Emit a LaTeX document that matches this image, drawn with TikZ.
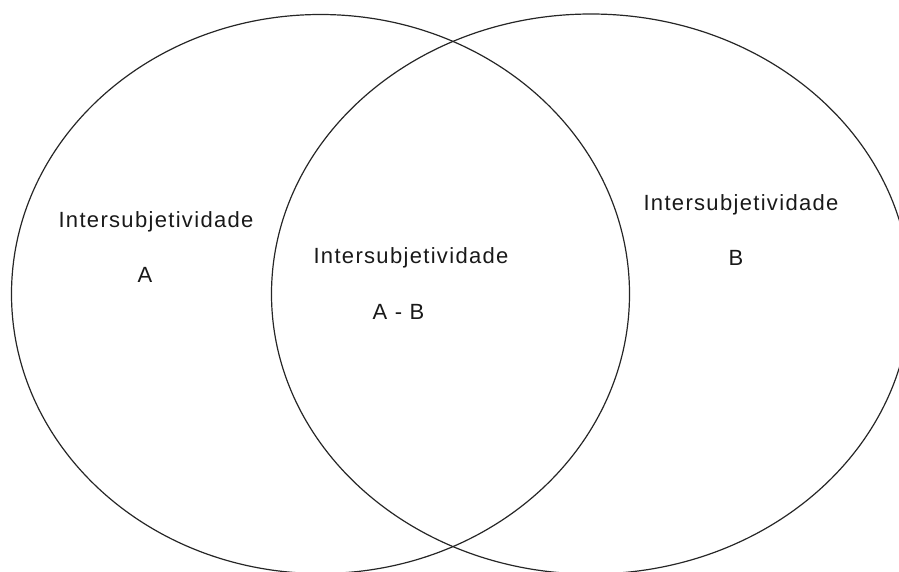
\documentclass[tikz,border=0pt]{standalone}
\usepackage{fontspec}
\newfontfamily\lblfont[LetterSpace=6]{Liberation Sans}
\usetikzlibrary{positioning}

\begin{document}
\begin{tikzpicture}[x=1pt, y=-1pt,
        setline/.style={line width=1.2pt, draw=black!85},
        lbl/.style={font=\lblfont\fontsize{22}{26}\selectfont, text=black!90, anchor=base, inner sep=0pt}
    ]
        \clip (0,0) rectangle (899,571);

        % The two sets
        \draw[setline] (320.5,294) ellipse [x radius=309, y radius=279.5];
        \draw[setline] (591,294) ellipse [x radius=319.5, y radius=280];

        % Left part
        \node[lbl] (intA) at (156,227) {Intersubjetividade};
        \node[lbl] (nameA) at (145,282) {A};

        % Common part
        \node[lbl] (intAB) at (411,263) {Intersubjetividade};
        \node[lbl] (nameAB) at (398.5,319) {A - B};

        % Right part
        \node[lbl] (intB) at (741,210.5) {Intersubjetividade};
        \node[lbl] (nameB) at (736,265) {B};
    \end{tikzpicture}
\end{document}
